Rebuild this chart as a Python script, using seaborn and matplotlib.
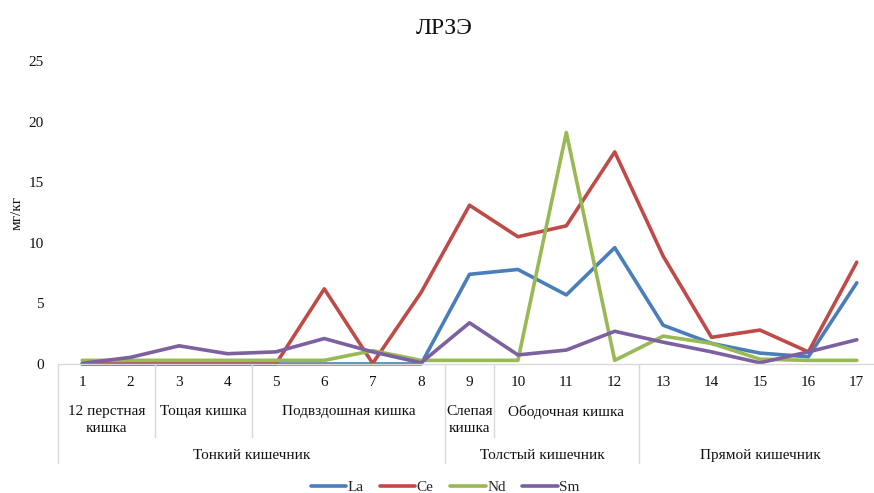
import matplotlib
matplotlib.use("Agg")
import matplotlib.pyplot as plt
import matplotlib.transforms as mtransforms
import seaborn as sns
import pandas as pd

# ---- data ----
samples = list(range(1, 18))
La = [0, 0, 0, 0, 0, 0, 0, 0, 7.4, 7.8, 5.7, 9.6, 3.2, 1.7, 0.9, 0.6, 6.7]
Ce = [0, 0, 0, 0, 0, 6.2, 0.05, 5.9, 13.1, 10.5, 11.4, 17.5, 8.9, 2.2, 2.8, 1.0, 8.4]
Nd = [0.3, 0.3, 0.3, 0.3, 0.3, 0.3, 1.1, 0.3, 0.3, 0.3, 19.1, 0.3, 2.3, 1.7, 0.4, 0.3, 0.3]
Sm = [0.05, 0.55, 1.5, 0.85, 1.0, 2.1, 1.0, 0.1, 3.4, 0.75, 1.15, 2.7, 1.8, 1.0, 0.1, 1.0, 2.0]
elements = ["La", "Ce", "Nd", "Sm"]
colors = ["#4A7EBB", "#BE4B48", "#98B954", "#7D60A0"]

section_labels = ["12 перстная\nкишка", "Тощая кишка", "Подвздошная кишка", "Слепая\nкишка", "Ободочная кишка"]
section_spans = [(1, 2), (3, 4), (5, 8), (9, 9), (10, 12)]
organ_labels = ["Тонкий кишечник", "Толстый кишечник", "Прямой кишечник"]
organ_spans = [(1, 8), (9, 12), (13, 17)]

title = "ЛРЗЭ"
ylabel = "мг/кг"

df = pd.DataFrame({
    "sample": samples * 4,
    "value": La + Ce + Nd + Sm,
    "element": sum([[e] * len(samples) for e in elements], []),
})

sns.set_style("white")
plt.rcParams["font.family"] = ["Liberation Serif", "DejaVu Serif"]

FS = 11
W, H = 874, 493
fig = plt.figure(figsize=(W / 100, H / 100), dpi=100)
left, right, bottom, top = 58, 881, 364, 61
ax = fig.add_axes([left / W, 1 - bottom / H, (right - left) / W, (bottom - top) / H])

sns.lineplot(data=df, x="sample", y="value", hue="element", hue_order=elements,
             palette=colors, linewidth=2.6, ax=ax, legend=False,
             solid_joinstyle="round", solid_capstyle="round", clip_on=False)

ax.set_xlim(0.5, 17.5)
ax.set_ylim(0, 25)
ax.set_yticks([0, 5, 10, 15, 20, 25])
ax.tick_params(axis="y", length=0, pad=10, labelsize=FS, labelcolor="#111111")
ax.set_xticks(samples)
ax.set_xticklabels([str(s) for s in samples])
ax.tick_params(axis="x", length=0, pad=9, labelsize=FS, labelcolor="#111111")
ax.set_xlabel("")
ax.set_ylabel("")
for s in ["left", "right", "top"]:
    ax.spines[s].set_visible(False)
ax.spines["bottom"].set_color("#D9D9D9")
ax.spines["bottom"].set_linewidth(1.0)

def ypix_to_axes(yp):
    return (bottom - yp) / (bottom - top)

trans = mtransforms.blended_transform_factory(ax.transData, ax.transAxes)
sep_col = "#D9D9D9"
# short separators (section row)
for xv in [2.5, 4.5, 9.5]:
    ax.plot([xv, xv], [0, ypix_to_axes(437)], transform=trans, color=sep_col, lw=1.0, clip_on=False)
# full separators
for xv in [0.5, 8.5, 12.5, 17.5]:
    ax.plot([xv, xv], [0, ypix_to_axes(463)], transform=trans, color=sep_col, lw=1.0, clip_on=False)

for lab, (a, b) in zip(section_labels, section_spans):
    ax.text((a + b) / 2, ypix_to_axes(405), lab, transform=trans, ha="center", va="top",
            fontsize=FS, linespacing=1.4, color="#111111")
for lab, (a, b) in zip(organ_labels, organ_spans):
    ax.text((a + b) / 2, ypix_to_axes(455), lab, transform=trans, ha="center", va="center",
            fontsize=FS, color="#111111")

fig.text(444 / W, 1 - 28 / H, title, ha="center", va="center", fontsize=17, color="#111111")
fig.text(17 / W, 1 - 213 / H, ylabel, ha="center", va="center", rotation=90, fontsize=FS,
         color="#111111")

handles = [plt.Line2D([], [], color=c, lw=2.6, solid_capstyle="round") for c in colors]
fig.legend(handles, elements, loc="center", bbox_to_anchor=(445 / W, 1 - 487 / H), ncol=4,
           frameon=False, fontsize=FS, handlelength=2.3, handletextpad=0.1, columnspacing=1.1)

fig.savefig("out.png", dpi=100)
